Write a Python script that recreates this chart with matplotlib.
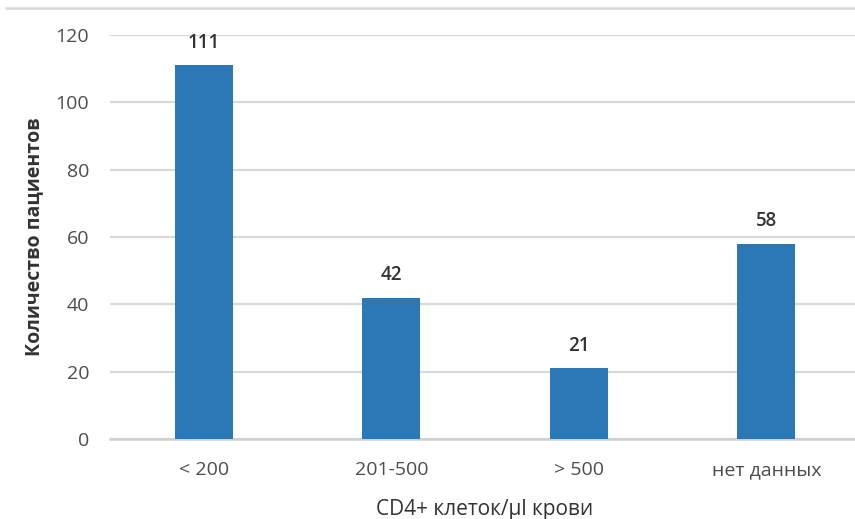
import matplotlib.pyplot as plt
from matplotlib.lines import Line2D

categories = ["< 200", "201-500", "> 500", "нет данных"]
patients = [111, 42, 21, 58]
yticks = [0, 20, 40, 60, 80, 100, 120]

plt.rcParams["font.family"] = ["Open Sans", "DejaVu Sans"]

fig = plt.figure(figsize=(8.55, 5.19), dpi=100)
ax = fig.add_axes([110 / 855, 1 - 439 / 519, 750 / 855, (439 - 35) / 519])

x = list(range(len(categories)))
ax.bar(x, patients, width=0.31, color="#2a78b5", zorder=3)
for xi, v in zip(x, patients):
    ax.text(xi, v + 3.8, str(v), ha="center", va="bottom", fontsize=13.5,
            fontweight="semibold", color="#333333")

ax.set_ylim(0, 120)
ax.set_xlim(-0.5, 3.5)
ax.set_yticks(yticks)
ax.set_xticks(x)
ax.set_xticklabels(categories)
ax.grid(axis="y", color="#d9d9d9", linewidth=1.6, zorder=0)
for s in ["top", "right", "left"]:
    ax.spines[s].set_visible(False)
ax.spines["bottom"].set_color("#d0d0d0")
ax.spines["bottom"].set_linewidth(1.8)
ax.tick_params(axis="both", length=0, labelsize=14, colors="#4d4d4d")
ax.tick_params(axis="y", pad=15)
ax.tick_params(axis="x", pad=16)

ax.set_ylabel("Количество пациентов", fontsize=14, fontweight="bold",
              color="#333333", labelpad=8)
ax.set_xlabel("CD4+ клеток/µl крови", fontsize=15, color="#333333", labelpad=14)

# thin frame line at the top of the picture
fig.add_artist(Line2D([6 / 855, 1], [1 - 8 / 519] * 2, color="#d9d9d9", linewidth=1.8))

fig.savefig("out.png", dpi=100)
